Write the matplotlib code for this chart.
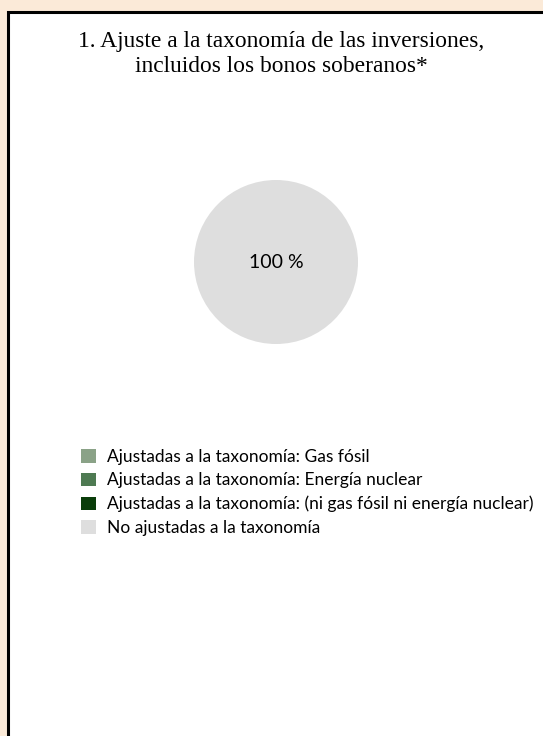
import matplotlib.pyplot as plt
from matplotlib.patches import Rectangle

# data
categories = [
    "Ajustadas a la taxonomía: Gas fósil",
    "Ajustadas a la taxonomía: Energía nuclear",
    "Ajustadas a la taxonomía: (ni gas fósil ni energía nuclear)",
    "No ajustadas a la taxonomía",
]
shares = [0, 0, 0, 100]
colors = ["#8aa287", "#4e7a52", "#0a3d0a", "#dedede"]
title = "1. Ajuste a la taxonomía de las inversiones,\nincluidos los bonos soberanos*"

W, H = 543, 736
fig = plt.figure(figsize=(W / 100, H / 100), dpi=100)
fig.patch.set_facecolor("#fbead8")

# white panel with black frame
fig.patches.append(
    Rectangle((8 / W, -0.05), 1.1, 1 - 12 / H + 0.05,
              transform=fig.transFigure, facecolor="white",
              edgecolor="black", linewidth=2.2, zorder=-5)
)

fig.text(281 / W, 1 - 54 / H, title, ha="center", va="center",
         family="Liberation Serif", fontsize=16.9, linespacing=1.3)

cx, cy, r = 276, 262, 82
ax = fig.add_axes([(cx - r) / W, 1 - (cy + r) / H, 2 * r / W, 2 * r / H])


def fmt(p):
    return f"{p:.0f} %" if p > 0 else ""


wedges, texts, autotexts = ax.pie(
    shares, colors=colors, startangle=90, counterclock=False,
    autopct=fmt, pctdistance=0.0,
    textprops=dict(family="Lato", fontsize=14, color="black"),
)
ax.set_xlim(-1, 1)
ax.set_ylim(-1, 1)
ax.set_aspect("equal")

fig.legend(wedges, categories, loc="upper left",
           bbox_to_anchor=(81 / W, 1 - 449 / H), frameon=False,
           prop=dict(family="Lato", size=12.5), handlelength=0.85,
           handleheight=0.85, handletextpad=0.65, labelspacing=0.43,
           borderpad=0, borderaxespad=0)

fig.savefig("out.png", dpi=100)
